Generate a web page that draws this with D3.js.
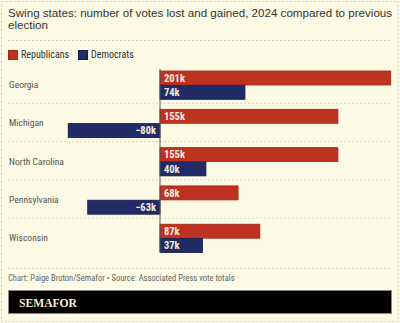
<!DOCTYPE html>
<html><head><meta charset="utf-8">
<script src="https://cdn.jsdelivr.net/npm/d3@7"></script>
<style>
html,body{margin:0;padding:0;background:#fcf9e5;}
svg{display:block;}
</style></head>
<body>
<svg id="c" width="400" height="323"></svg>
<script>
const states = ["Georgia","Michigan","North Carolina","Pennsylvania","Wisconsin"];
const republicans = [201,155,155,68,87];
const democrats = [74,-80,40,-63,37];
const seriesNames = ["Republicans","Democrats"];
const colors = ["#be3222","#212b66"];
const strokes = ["#a82617","#151c4c"];

const W=400,H=323;
const svg=d3.select("#c");
const condensed = "'Liberation Sans Narrow','Roboto Condensed','DejaVu Sans Condensed','Open Sans',sans-serif";

svg.append("rect").attr("x",0).attr("y",0).attr("width",W).attr("height",H).attr("fill","#fcf9e5");
svg.append("rect").attr("x",1.5).attr("y",1.5).attr("width",W-3.5).attr("height",H-3).attr("fill","none")
  .attr("stroke","#cfcdbf").attr("stroke-dasharray","2,2");

// title
const title=svg.append("text").attr("x",8).attr("y",17).attr("fill","#333")
  .style("font-family","'Liberation Sans',Arial,sans-serif").style("font-size","11.6px");
title.append("tspan").attr("x",8).attr("y",17).text("Swing states: number of votes lost and gained, 2024 compared to previous");
title.append("tspan").attr("x",8).attr("y",28.5).text("election");

svg.append("line").attr("x1",8).attr("x2",392).attr("y1",40.5).attr("y2",40.5)
  .attr("stroke","#d3d0c0").attr("stroke-dasharray","2,2");

// legend
const lg=svg.append("g");
const lx=[8,78];
seriesNames.forEach((n,i)=>{
  lg.append("rect").attr("x",lx[i]+0.5).attr("y",50.5).attr("width",9).attr("height",9)
    .attr("fill",colors[i]).attr("stroke",strokes[i]);
  lg.append("text").attr("x",lx[i]+13).attr("y",58).text(n).attr("fill","#333")
    .style("font-family",condensed).style("font-size","10px");
});

// scales
const x=d3.scaleLinear().domain([-80,201]).range([68.2,390.7]);
const y=d3.scaleBand().domain(states).range([65.5,257]).paddingInner(0).paddingOuter(0);
const bh=14;

const g=svg.append("g");
// separators
states.slice(1).forEach(s=>{
  g.append("line").attr("x1",8).attr("x2",391).attr("y1",y(s)-0.5).attr("y2",y(s)-0.5)
   .attr("stroke","#dcd9c8").attr("stroke-dasharray","2,2");
});

const data=states.map((s,i)=>({s,vals:[republicans[i],democrats[i]]}));
data.forEach(d=>{
  d.vals.forEach((v,j)=>{
    const y0=y(d.s)+5.5+j*14.3;
    const x0=Math.min(x(0),x(v)), x1=Math.max(x(0),x(v));
    g.append("rect").attr("x",x0).attr("y",y0).attr("width",x1-x0).attr("height",bh)
      .attr("fill",colors[j]).attr("stroke",strokes[j]).attr("stroke-width",0.8);
    const lab = (v<0?"\u2212":"")+Math.abs(v)+"k";
    g.append("text").attr("x",v<0?x(0)-4:x(0)+4).attr("y",y0+bh/2+3.6)
      .attr("text-anchor",v<0?"end":"start").attr("fill","#f6eee0")
      .style("font-family",condensed).style("font-size","10.5px").style("font-weight","bold").text(lab);
  });
  g.append("text").attr("x",9).attr("y",y(d.s)+y.bandwidth()/2+3.3).text(d.s)
    .attr("fill","#555").style("font-family",condensed).style("font-size","9.6px");
});

// zero axis
g.append("line").attr("x1",x(0)).attr("x2",x(0)).attr("y1",69).attr("y2",252)
  .attr("stroke","#555").attr("stroke-width",1);

// footer
svg.append("line").attr("x1",8).attr("x2",392).attr("y1",268.5).attr("y2",268.5)
  .attr("stroke","#d3d0c0").attr("stroke-dasharray","2,2");
svg.append("text").attr("x",8).attr("y",281).attr("fill","#666")
  .style("font-family",condensed).style("font-size","8.5px")
  .text("Chart: Paige Bruton/Semafor \u2022 Source: Associated Press vote totals");
svg.append("rect").attr("x",8.5).attr("y",290.5).attr("width",383).attr("height",23)
  .attr("fill","#000").attr("stroke","#8a877a");
svg.append("text").attr("x",19).attr("y",306.5).attr("fill","#f3ecd6")
  .attr("textLength",58).attr("lengthAdjust","spacingAndGlyphs")
  .style("font-family","'Liberation Serif','DejaVu Serif',serif").style("font-size","13.5px")
  .style("font-weight","bold").text("SEMAFOR");
</script>
</body></html>
